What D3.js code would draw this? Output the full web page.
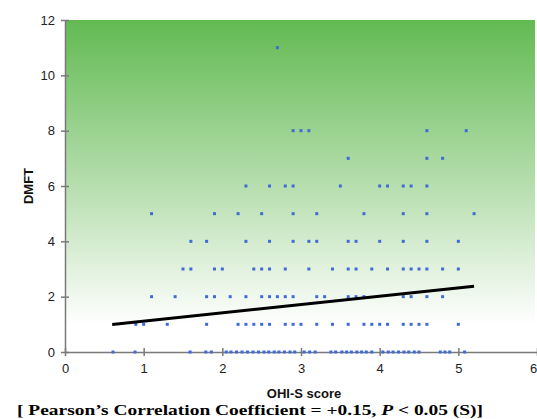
<!DOCTYPE html>
<html>
<head>
<meta charset="utf-8">
<script src="https://cdn.jsdelivr.net/npm/d3@7"></script>
<style>
  body { margin: 0; background: #fff; }
  .tick text { font-family: "Liberation Sans", Arial, sans-serif; font-size: 13px; fill: #222; }
  .axisTitle { font-family: "Liberation Sans", Arial, sans-serif; font-weight: bold; font-size: 13px; fill: #111; }
  .note { font-family: "Liberation Serif", "Times New Roman", serif; font-weight: bold; font-size: 15px; fill: #000; }
</style>
</head>
<body>
<div id="chart"></div>
<script>
// OHI-S score values, grouped by DMFT value
var ohisAt0 = [0.61, 0.89, 1.59, 1.79, 1.86, 2.05, 2.11, 2.18, 2.25, 2.32, 2.39, 2.46, 2.53, 2.59, 2.66, 2.72, 2.79, 2.86, 2.92,
               3.04, 3.11, 3.18, 3.38, 3.44, 3.52, 3.58, 3.64, 3.71, 3.77, 3.83, 3.90, 4.04, 4.11, 4.17, 4.24, 4.31, 4.37,
               4.44, 4.50, 4.77, 4.83, 4.89, 5.08];
var ohisAt1 = [0.9, 1.0, 1.3, 1.8, 2.2, 2.3, 2.4, 2.5, 2.6, 2.8, 2.9, 3.0, 3.2, 3.4, 3.6, 3.8, 3.9, 4.0, 4.1, 4.3, 4.4, 4.5, 4.6, 5.0];
var ohisAt2 = [1.1, 1.4, 1.8, 1.9, 2.1, 2.3, 2.5, 2.6, 2.7, 2.8, 2.9, 3.2, 3.3, 3.6, 3.7, 3.8, 4.3, 4.4, 4.6, 4.8];
var ohisAt3 = [1.5, 1.6, 1.9, 2.0, 2.4, 2.5, 2.6, 2.8, 3.1, 3.4, 3.6, 3.7, 3.9, 4.1, 4.3, 4.4, 4.5, 4.6, 4.8, 5.0];
var ohisAt4 = [1.6, 1.8, 2.3, 2.6, 2.9, 3.1, 3.2, 3.6, 3.7, 4.0, 4.3, 4.6, 5.0];
var ohisAt5 = [1.1, 1.9, 2.2, 2.5, 2.9, 3.2, 3.8, 4.3, 4.6, 5.2];
var ohisAt6 = [2.3, 2.6, 2.8, 2.9, 3.5, 4.0, 4.1, 4.3, 4.4, 4.6];
var ohisAt7 = [3.6, 4.6, 4.8];
var ohisAt8 = [2.9, 3.0, 3.1, 4.6, 5.1];
var ohisAt11 = [2.7];

var dmftLevels = [0, 1, 2, 3, 4, 5, 6, 7, 8, 11];
var ohisGroups = [ohisAt0, ohisAt1, ohisAt2, ohisAt3, ohisAt4, ohisAt5, ohisAt6, ohisAt7, ohisAt8, ohisAt11];

// linear trend line end points
var trendX = [0.6, 5.2];
var trendY = [0.99, 2.38];

var xTicks = [0, 1, 2, 3, 4, 5, 6];
var yTicks = [0, 2, 4, 6, 8, 10, 12];

var xTitle = "OHI-S score";
var yTitle = "DMFT";

var points = [];
dmftLevels.forEach(function(level, i) {
	ohisGroups[i].forEach(function(v) {
		points.push({ x: v, y: level });
	});
});

var W = 537, H = 419;
var margin = { top: 20, right: 0, bottom: 67, left: 65 };

var svg = d3.select("#chart").append("svg")
	.attr("width", W)
	.attr("height", H);

var x = d3.scaleLinear().domain([0, 6]).range([margin.left, W - margin.right]);
var y = d3.scaleLinear().domain([0, 12]).range([H - margin.bottom, margin.top]);

// plot background gradient
var grad = svg.append("defs").append("linearGradient")
	.attr("id", "bg")
	.attr("x1", "0%").attr("y1", "0%")
	.attr("x2", "0%").attr("y2", "100%");
grad.append("stop").attr("offset", "0%").attr("stop-color", "#62ba52");
grad.append("stop").attr("offset", "55%").attr("stop-color", "#bfe2b8");
grad.append("stop").attr("offset", "92%").attr("stop-color", "#ffffff");

svg.append("rect")
	.attr("x", x(0))
	.attr("y", y(12))
	.attr("width", x(6) - x(0) - 2)
	.attr("height", y(0) - y(12))
	.style("fill", "url(#bg)");

// axes
var xAxis = svg.append("g")
	.attr("transform", "translate(0," + y(0) + ")")
	.call(d3.axisBottom(x).tickValues(xTicks).tickFormat(d3.format("d")).tickSize(4).tickSizeOuter(0));
xAxis.selectAll(".tick line").attr("y1", -4).attr("y2", 4);
xAxis.selectAll(".tick text").attr("y", 12)
	.attr("dx", function(d) { return d === 6 ? -4 : 0; });

var yAxis = svg.append("g")
	.attr("transform", "translate(" + x(0) + ",0)")
	.call(d3.axisLeft(y).tickValues(yTicks).tickFormat(d3.format("d")).tickSize(4).tickSizeOuter(0));
yAxis.selectAll(".tick line").attr("x1", -4).attr("x2", 4);
yAxis.selectAll(".tick text").attr("x", -10);

svg.selectAll(".domain, .tick line").attr("stroke", "#7a7a7a").attr("stroke-width", 1.5);

// points
svg.append("g").selectAll("rect")
	.data(points)
	.enter().append("rect")
	.attr("x", function(d) { return x(d.x) - 1.5; })
	.attr("y", function(d) { return y(d.y) - 1.5; })
	.attr("width", 3)
	.attr("height", 3)
	.style("fill", "#3f6bd6");

// trend line
var line = d3.line()
	.x(function(d) { return x(d[0]); })
	.y(function(d) { return y(d[1]); });
svg.append("path")
	.datum(trendX.map(function(v, i) { return [v, trendY[i]]; }))
	.attr("d", line)
	.attr("stroke", "#000")
	.attr("stroke-width", 3)
	.attr("fill", "none");

// titles
svg.append("text")
	.attr("class", "axisTitle")
	.attr("x", 304)
	.attr("y", 398)
	.style("text-anchor", "middle")
	.text(xTitle);

svg.append("text")
	.attr("class", "axisTitle")
	.attr("transform", "translate(33," + y(6) + ") rotate(-90)")
	.style("text-anchor", "middle")
	.text(yTitle);

var note = svg.append("text")
	.attr("class", "note")
	.attr("x", 17)
	.attr("y", 415)
	.attr("textLength", 466)
	.attr("lengthAdjust", "spacingAndGlyphs");
note.append("tspan").text("[ Pearson\u2019s Correlation Coefficient = +0.15, ");
note.append("tspan").style("font-style", "italic").text("P");
note.append("tspan").text(" < 0.05 (S)]");
</script>
</body>
</html>
